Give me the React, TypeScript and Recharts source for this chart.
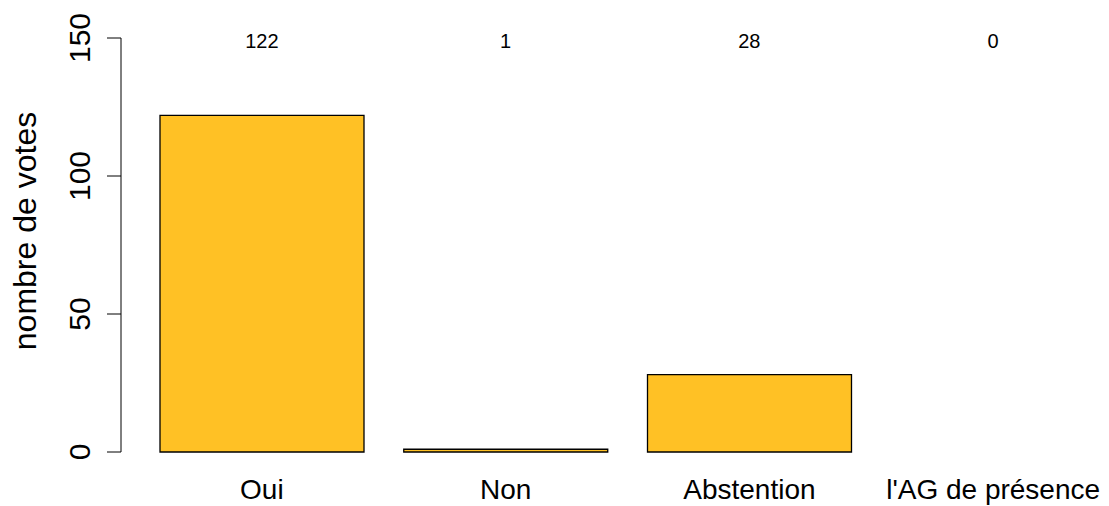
import { BarChart, Bar, XAxis, YAxis } from "recharts"

// vote categories and counts
const categories = ["Oui", "Non", "Abstention", "l'AG de présence"]
const votes = [122, 1, 28, 0]
const yTicks = [0, 50, 100, 150]

const data = categories.map((name, i) => ({ name, votes: votes[i] }))

const FONT = "'Liberation Sans', Arial, sans-serif"

const YTick = (props: any) => {
  const { x, y, payload } = props
  return (
    <text
      transform={`translate(${x - 17},${y}) rotate(-90)`}
      textAnchor="middle"
      fontSize={30}
      fontFamily={FONT}
      fill="#000"
    >
      {payload.value}
    </text>
  )
}

// category name under the bar, count printed at the top (also for the zero bar)
const XTick = (props: any) => {
  const { x, payload } = props
  return (
    <g>
      <text x={x} y={499} textAnchor="middle" fontSize={28} fontFamily={FONT} fill="#000">
        {payload.value}
      </text>
      <text x={x} y={48} textAnchor="middle" fontSize={20} fontFamily={FONT} fill="#000">
        {votes[payload.index]}
      </text>
    </g>
  )
}

const YLabel = () => (
  <text
    transform="translate(36,231) rotate(-90)"
    textAnchor="middle"
    fontSize={32}
    fontFamily={FONT}
    fill="#000"
  >
    nombre de votes
  </text>
)

export default function App() {
  return (
    <div style={{ position: "absolute", left: 0, top: 0, width: 1109, height: 506, overflow: "hidden", background: "#fff" }}>
      <BarChart
        width={1115}
        height={506}
        data={data}
        margin={{ top: 38, right: 0, bottom: 0, left: 0 }}
        barCategoryGap={20}
      >
        <XAxis
          dataKey="name"
          height={54}
          axisLine={false}
          tickLine={false}
          padding={{ left: 19, right: 0 }}
          tick={<XTick />}
          interval={0}
        />
        <YAxis
          width={121}
          domain={[0, 150]}
          ticks={yTicks}
          tickSize={14}
          tickMargin={0}
          axisLine={{ stroke: "#000", strokeWidth: 1 }}
          tickLine={{ stroke: "#000", strokeWidth: 1 }}
          tick={<YTick />}
          label={{ content: <YLabel /> }}
        />
        <Bar dataKey="votes" fill="#FFC125" stroke="#000" strokeWidth={1.3} isAnimationActive={false} />
      </BarChart>
    </div>
  )
}
